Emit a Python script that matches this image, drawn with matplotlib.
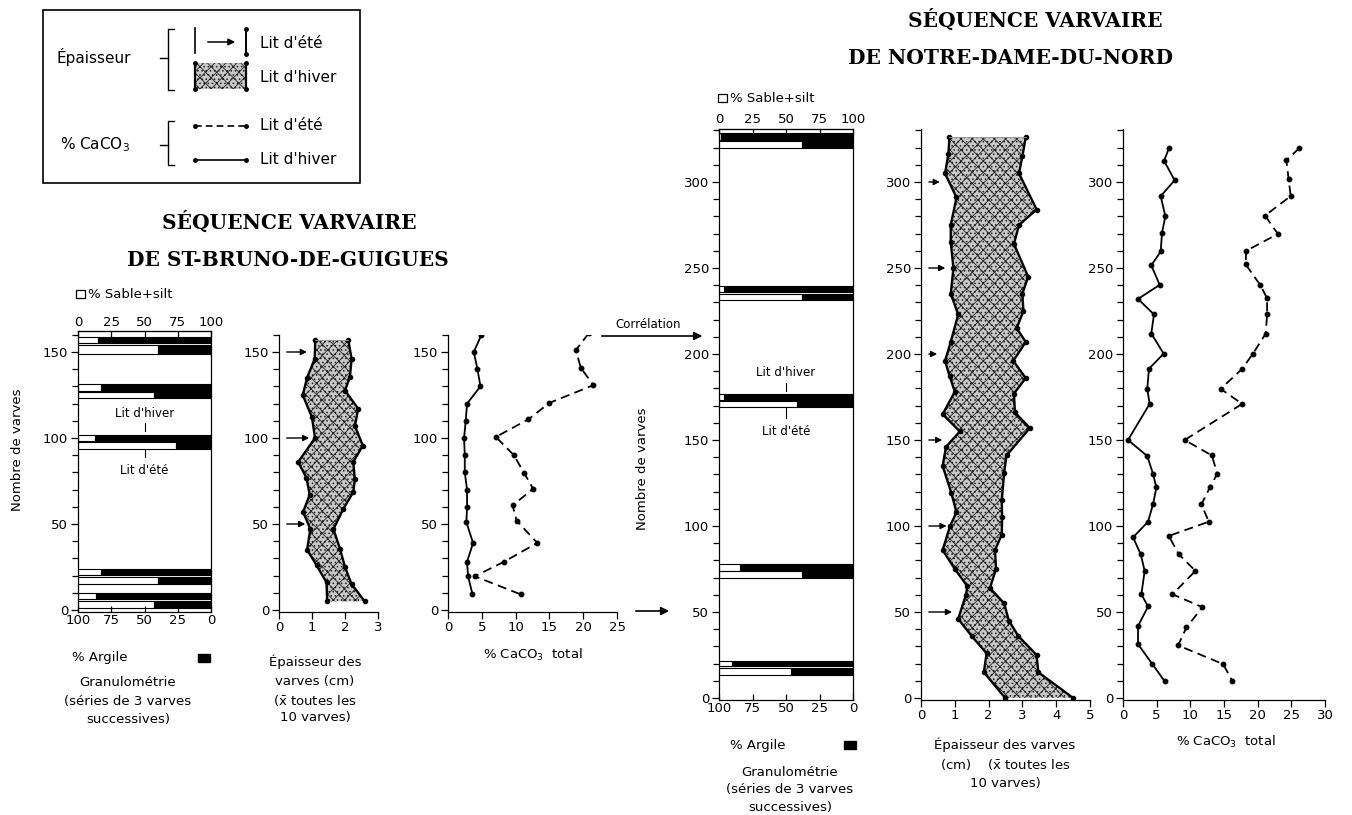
import matplotlib.pyplot as plt
import numpy as np
from matplotlib.patches import Rectangle
from matplotlib.ticker import MultipleLocator

plt.rcParams['font.family'] = ['DejaVu Sans']
plt.rcParams['hatch.linewidth'] = 0.6

# ---------------- Données ----------------
# St-Bruno-de-Guigues : granulométrie (lit d'hiver / lit d'été), bornes en varves et % sable+silt
sb_hiver_bas = [155.3, 127.6, 98.0, 20.4, 6.2]
sb_hiver_haut = [158.8, 131.5, 102.0, 23.7, 9.7]
sb_hiver_sable = [14.75, 17.0, 13.0, 17.5, 13.5]
sb_ete_bas = [149.1, 123.3, 93.6, 15.0, 1.0]
sb_ete_haut = [154.0, 127.0, 97.5, 19.4, 5.4]
sb_ete_sable = [60.5, 57.5, 74.0, 60.5, 57.5]

# St-Bruno : épaisseur (bord gauche = lit d'été, bord droit = total)
sb_ep_g_y = [157, 146, 135, 125, 112, 100, 86, 77, 67, 57, 47, 35, 26, 16, 5]
sb_ep_g_x = [1.1, 1.08, 0.85, 0.72, 1.0, 1.09, 0.58, 0.83, 0.93, 0.73, 0.95, 0.85, 1.14, 1.44, 1.46]
sb_ep_d_y = [157, 146, 135.5, 127.6, 117, 107, 95.6, 86, 76, 68.5, 58.8, 47, 35.5, 25, 15, 5]
sb_ep_d_x = [2.1, 2.2, 2.15, 2.0, 2.4, 2.3, 2.54, 2.25, 2.3, 2.25, 1.95, 1.65, 1.85, 2.0, 2.2, 2.6]
sb_fleches_y = [150, 100, 50]
sb_fleches_x = [0.93, 1.0, 0.88]

# St-Bruno : % CaCO3
sb_hiv_y = [160, 150, 140, 130, 120, 110, 100, 90, 80, 70, 60, 51, 39, 28, 19.6, 9.3]
sb_hiv_x = [4.95, 3.81, 4.36, 4.8, 2.82, 2.62, 2.38, 2.48, 2.48, 2.82, 2.82, 2.72, 3.71, 2.82, 2.97, 3.61]
sb_ete_y = [160.8, 151, 140.8, 130.7, 120.4, 110.9, 100.6, 90, 79.8, 70.5, 60.8, 52, 39, 28, 19.6, 9.1]
sb_ete_x = [20.8, 18.9, 19.65, 21.5, 15, 11.9, 7.08, 9.75, 11.24, 12.6, 9.55, 10.15, 13.2, 8.27, 3.96, 10.74]

# Notre-Dame-du-Nord : granulométrie
nd_hiver_bas = [324.7, 235.9, 173.0, 74.0, 18.5]
nd_hiver_haut = [328.6, 239.8, 177.0, 77.8, 21.8]
nd_hiver_sable = [1.75, 3.5, 4.0, 15.5, 10.0]
nd_ete_bas = [319.8, 231.4, 169.0, 69.7, 13.3]
nd_ete_haut = [324.0, 235.0, 172.5, 73.6, 17.6]
nd_ete_sable = [62.0, 62.0, 58.0, 62.0, 54.0]

# Notre-Dame-du-Nord : épaisseur
nd_ep_g_y = [326, 316, 305, 291, 275, 265, 250, 235, 223, 207, 196, 187, 178, 165, 155, 146, 135,
             119, 108, 100, 86, 75, 65, 60, 46, 36, 26, 15, 0]
nd_ep_g_x = [0.84, 0.81, 0.71, 1.05, 0.88, 0.88, 0.96, 0.88, 1.1, 0.88, 0.71, 0.85, 1.0, 0.64, 1.15,
             0.74, 0.64, 0.9, 1.05, 0.86, 0.64, 1.0, 1.37, 1.33, 1.1, 1.5, 1.94, 1.86, 2.49]
nd_ep_d_y = [326, 315, 305, 284, 275, 264, 245, 235, 225, 215, 207, 196, 186, 177, 166, 157, 141,
             131, 115, 105, 95, 86, 75, 64, 55, 45, 36, 25, 15, 0]
nd_ep_d_x = [3.1, 3.0, 2.9, 3.42, 2.9, 2.75, 3.17, 3.0, 3.03, 2.83, 3.1, 2.73, 3.1, 2.75, 2.78, 3.22,
             2.53, 2.46, 2.39, 2.4, 2.39, 2.19, 2.22, 2.04, 2.46, 2.6, 2.88, 3.42, 3.47, 4.5]
nd_fleches_y = [300, 250, 200, 150, 100, 50]
nd_fleches_x = [0.64, 0.8, 0.56, 0.71, 0.84, 1.0]

# Notre-Dame-du-Nord : % CaCO3
nd_hiv_y = [319.7, 312.3, 301, 291.8, 280, 270.4, 259.6, 251.5, 240.2, 232, 223, 211.9, 200.2, 191.4,
            179.7, 171, 150, 140.7, 130.4, 122.4, 112.6, 102.5, 93.4, 83.6, 73.9, 60.3, 53.2, 41.8,
            31.3, 19.7, 9.7]
nd_hiv_x = [6.83, 6.1, 7.67, 5.6, 6.29, 5.79, 5.6, 4.2, 5.45, 2.23, 4.6, 4.2, 6.04, 3.86, 3.6, 3.96,
            0.74, 3.6, 4.45, 4.96, 4.46, 3.72, 1.49, 2.63, 3.22, 2.73, 3.72, 2.23, 2.23, 4.36, 6.2]
nd_ete_y = [319.7, 312.7, 301.6, 291.8, 280.5, 269.8, 260, 252.2, 240, 232.4, 223, 211.9, 200.2, 191.4,
            179.7, 171, 150, 141, 130.4, 122.4, 112.6, 102.5, 94.2, 83.6, 73.9, 60.3, 52.8, 41, 30.6,
            19.7, 9.7]
nd_ete_x = [26.2, 24.26, 24.6, 24.9, 21.1, 23, 18.3, 18.2, 20.4, 21.4, 21.4, 21.2, 19.3, 17.7, 14.5,
            17.7, 9.16, 13.2, 14, 12.9, 11.65, 12.74, 6.8, 8.28, 10.76, 7.34, 11.8, 9.42, 8.18, 14.87, 16.26]

gran_ticks = [0, 25, 50, 75, 100]
gran_ticklabels_bas = ['100', '75', '50', '25', '0']

# ---------------- Figure ----------------
W, H = 1352, 815
fig = plt.figure(figsize=(W / 100, H / 100), dpi=100)
FS = 9.5
STIPPLE = 'xxx....'
STIPPLE_FOND = '#c8c8c8'


def px_axes(x0, x1, xlim, yzero, ylim, scale=1.72):
    # positionne un axe en pixels (x0,x1 pour xlim, yzero = pixel de la valeur 0)
    ytop = yzero - ylim[1] * scale
    ybot = yzero - ylim[0] * scale
    ax = fig.add_axes([x0 / W, 1 - ybot / H, (x1 - x0) / W, (ybot - ytop) / H])
    ax.set_xlim(xlim)
    ax.set_ylim(ylim)
    ax.patch.set_alpha(0)
    ax.yaxis.set_major_locator(MultipleLocator(50))
    ax.yaxis.set_minor_locator(MultipleLocator(10))
    ax.tick_params(axis='both', which='major', length=5, width=0.9, labelsize=FS, pad=2)
    ax.tick_params(axis='both', which='minor', length=4, width=0.9)
    for s in ax.spines.values():
        s.set_linewidth(0.9)
    return ax


def granulo(ax, hb, hh, hs, eb, eh, es):
    for lo, hi, s in [(hb, hh, hs), (eb, eh, es)]:
        lo = np.array(lo)
        hi = np.array(hi)
        s = np.array(s)
        ax.barh(lo, s, height=hi - lo, align='edge', color='white', edgecolor='k', lw=0.8)
        ax.barh(lo, 100 - s, left=s, height=hi - lo, align='edge', color='k', edgecolor='k', lw=0.8)
    ax.set_xticks(gran_ticks)
    ax.set_xticklabels(gran_ticklabels_bas)
    ax.tick_params(axis='x', top=True, labeltop=True, direction='in', length=4)
    top = ax.secondary_xaxis('top')
    top.set_xticks(gran_ticks)
    top.tick_params(labelsize=FS, length=0, pad=2)
    ax.tick_params(axis='x', labeltop=False)


def epaisseur(ax, gy, gx, dy, dx, fy, fx):
    px = list(gx) + list(dx)[::-1]
    py = list(gy) + list(dy)[::-1]
    ax.fill(px, py, facecolor=STIPPLE_FOND, edgecolor='#222222', hatch=STIPPLE, lw=0)
    ax.plot(gx, gy, color='k', lw=1.7, marker='o', ms=3)
    ax.plot(dx, dy, color='k', lw=1.7, marker='o', ms=3)
    ax.plot([gx[0], dx[0]], [gy[0], dy[0]], color='#9a9a9a', lw=0.6)
    for y, x in zip(fy, fx):
        ax.annotate('', xy=(x, y), xytext=(0.15, y),
                    arrowprops=dict(arrowstyle='-|>', lw=1.0, color='k', mutation_scale=9))
    for s in ['top', 'right']:
        ax.spines[s].set_visible(False)


def caco3(ax, hy, hx, ey, ex):
    ax.plot(hx, hy, color='k', lw=1.3, marker='o', ms=3.2)
    ax.plot(ex, ey, color='k', lw=1.3, marker='o', ms=3.2, dashes=(5, 3))
    for s in ['top', 'right']:
        ax.spines[s].set_visible(False)


# --- St-Bruno-de-Guigues ---
a1 = px_axes(78, 211, (0, 100), 610, (-1, 162))
granulo(a1, sb_hiver_bas, sb_hiver_haut, sb_hiver_sable, sb_ete_bas, sb_ete_haut, sb_ete_sable)
a1.plot([50, 50], [104, 108.5], color='k', lw=0.8)
a1.plot([50, 50], [89, 93], color='k', lw=0.8)
a1.text(50, 114, "Lit d'hiver", ha='center', va='center', fontsize=8.5)
a1.text(50, 81, "Lit d'été", ha='center', va='center', fontsize=8.5)

a2 = px_axes(279, 378, (0, 3), 610, (-1, 160))
a2.set_xticks([0, 1, 2, 3])
epaisseur(a2, sb_ep_g_y, sb_ep_g_x, sb_ep_d_y, sb_ep_d_x, sb_fleches_y, sb_fleches_x)

a3 = px_axes(448, 617, (0, 25), 610, (-1, 160))
a3.set_xticks([0, 5, 10, 15, 20, 25])
caco3(a3, sb_hiv_y, sb_hiv_x, sb_ete_y, sb_ete_x)

# --- Notre-Dame-du-Nord ---
b1 = px_axes(719, 853, (0, 100), 698, (-1, 331))
granulo(b1, nd_hiver_bas, nd_hiver_haut, nd_hiver_sable, nd_ete_bas, nd_ete_haut, nd_ete_sable)
b1.plot([50, 50], [178.5, 183], color='k', lw=0.8)
b1.plot([50, 50], [163, 168.5], color='k', lw=0.8)
b1.text(50, 189, "Lit d'hiver", ha='center', va='center', fontsize=8.5)
b1.text(50, 155, "Lit d'été", ha='center', va='center', fontsize=8.5)

b2 = px_axes(921, 1090, (0, 5), 698, (-1, 331))
b2.set_xticks([0, 1, 2, 3, 4, 5])
epaisseur(b2, nd_ep_g_y, nd_ep_g_x, nd_ep_d_y, nd_ep_d_x, nd_fleches_y, nd_fleches_x)

b3 = px_axes(1123, 1325, (0, 30), 698, (-1, 331))
b3.set_xticks([0, 5, 10, 15, 20, 25, 30])
caco3(b3, nd_hiv_y, nd_hiv_x, nd_ete_y, nd_ete_x)

# ---------------- Textes, légende (coordonnées pixels) ----------------
ov = fig.add_axes([0, 0, 1, 1])
ov.set_xlim(0, W)
ov.set_ylim(H, 0)
ov.axis('off')
ov.patch.set_alpha(0)

def t(x, y, s, ha='center', size=FS, **kw):
    ov.text(x, y, s, ha=ha, va='center', fontsize=size, **kw)

# titres
titre = dict(fontsize=14.5, fontweight='bold', family='DejaVu Serif', ha='center', va='center')
ov.text(289, 222, 'SÉQUENCE VARVAIRE', **titre)
ov.text(288, 260, 'DE ST-BRUNO-DE-GUIGUES', **titre)
ov.text(1035, 20, 'SÉQUENCE VARVAIRE', **titre)
ov.text(1010, 58, 'DE NOTRE-DAME-DU-NORD', **titre)

# légende
ov.add_patch(Rectangle((43, 10), 317, 173, fill=False, lw=1.2, color='k'))
for yt, yb, ym in [(29, 90, 58), (121, 165, 145)]:
    ov.plot([174, 168, 168, 174], [yt, yt, yb, yb], color='k', lw=1.0)
    ov.plot([160, 168], [ym, ym], color='k', lw=1.0)
t(57, 57, 'Épaisseur', ha='left', size=11)
t(60, 145, '% CaCO$_3$', ha='left', size=11)
ov.plot([195, 195], [28, 53], color='k', lw=1.2)
ov.annotate('', xy=(238, 42), xytext=(205, 42),
            arrowprops=dict(arrowstyle='-|>', lw=1.1, color='k', mutation_scale=10))
ov.plot([246, 246], [29, 54], color='k', lw=1.4, marker='o', ms=2.5)
ov.add_patch(Rectangle((195, 63), 51, 26, facecolor=STIPPLE_FOND, edgecolor='#222222',
                       hatch=STIPPLE, lw=0))
ov.plot([195, 195], [63, 89], color='k', lw=1.6, marker='o', ms=2.5)
ov.plot([246, 246], [63, 89], color='k', lw=1.6, marker='o', ms=2.5)
ov.plot([195, 246], [126, 126], color='k', lw=1.2, dashes=(4, 2.5), marker='o', ms=2.5)
ov.plot([195, 246], [160, 160], color='k', lw=1.2, marker='o', ms=2.5)
for y, s in [(43, "Lit d'été"), (78, "Lit d'hiver"), (126, "Lit d'été"), (160, "Lit d'hiver")]:
    t(260, y, s, ha='left', size=11)

# étiquettes St-Bruno
ov.add_patch(Rectangle((76, 290), 9, 8, fill=False, lw=0.9, color='k'))
t(88, 294, '% Sable+silt', ha='left')
t(18, 450, 'Nombre de varves', rotation=90)
t(100, 658, '% Argile')
ov.add_patch(Rectangle((198, 654), 12, 8, color='k'))
t(128, 683, 'Granulométrie')
t(128, 702, '(séries de 3 varves')
t(128, 720, 'successives)')
t(315, 662, 'Épaisseur des')
t(315, 681, 'varves (cm)')
t(315, 700, r'($\bar{\mathrm{x}}$ toutes les')
t(315, 718, '10 varves)')
t(533, 655, '% CaCO$_3$  total')

# étiquettes Notre-Dame-du-Nord
ov.add_patch(Rectangle((718, 94), 9, 8, fill=False, lw=0.9, color='k'))
t(730, 98, '% Sable+silt', ha='left')
t(643, 469, 'Nombre de varves', rotation=90)
t(758, 745, '% Argile')
ov.add_patch(Rectangle((844, 741), 12, 8, color='k'))
t(790, 772, 'Granulométrie')
t(790, 790, '(séries de 3 varves')
t(790, 808, 'successives)')
t(1005, 745, 'Épaisseur des varves')
t(1005, 765, r'(cm)    ($\bar{\mathrm{x}}$ toutes les')
t(1005, 783, '10 varves)')
t(1226, 742, '% CaCO$_3$  total')

# corrélation
ov.annotate('', xy=(705, 336), xytext=(599, 336),
            arrowprops=dict(arrowstyle='-|>', lw=1.2, color='k', mutation_scale=12))
t(648, 324, 'Corrélation', size=8.5)
ov.annotate('', xy=(672, 611), xytext=(633, 611),
            arrowprops=dict(arrowstyle='-|>', lw=1.2, color='k', mutation_scale=12))

fig.savefig('out.png', dpi=100)
